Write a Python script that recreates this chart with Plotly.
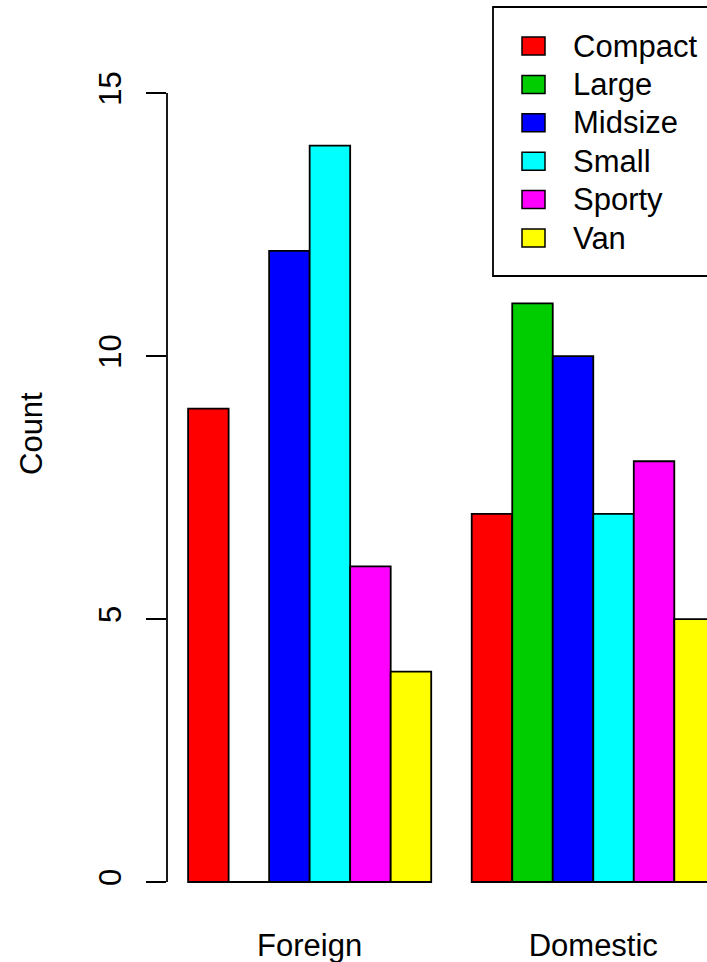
import plotly.graph_objects as go

origins = ["Foreign", "Domestic"]
types = ["Compact", "Large", "Midsize", "Small", "Sporty", "Van"]
colors = ["#FF0000", "#00CD00", "#0000FF", "#00FFFF", "#FF00FF", "#FFFF00"]
counts = {
    "Compact": [9, 7],
    "Large": [0, 11],
    "Midsize": [12, 10],
    "Small": [14, 7],
    "Sporty": [6, 8],
    "Van": [4, 5],
}
y_ticks = [0, 5, 10, 15]
y_title = "Count"

W, H = 707, 962
ML, MR, MT, MB = 167, 0, 0, 48
PW, PH = W - ML - MR, H - MT - MB
FONT = "Liberation Sans, Arial, Helvetica, sans-serif"
FS = 31

def px_x(px):
    return (px - ML) / PW

def px_y(py):
    return 1 - (py - MT) / PH

fig = go.Figure()
for t, c in zip(types, colors):
    fig.add_trace(go.Bar(
        x=origins, y=counts[t], name=t,
        marker=dict(color=c, line=dict(color="black", width=1.8)),
        showlegend=False, hoverinfo="skip",
    ))

shapes = []
annotations = []
# y axis line from first to last tick (R style)
shapes.append(dict(type="line", xref="paper", yref="y", x0=0, x1=0,
                   y0=min(y_ticks), y1=max(y_ticks),
                   line=dict(color="black", width=1.8)))
# legend box
shapes.append(dict(type="rect", xref="paper", yref="paper",
                   x0=px_x(493), x1=px_x(760), y0=px_y(276), y1=px_y(7),
                   line=dict(color="black", width=1.8), fillcolor="white", layer="above"))
row0, step = 46, 38.4
for i, (t, c) in enumerate(zip(types, colors)):
    cy = row0 + step * i
    shapes.append(dict(type="rect", xref="paper", yref="paper",
                       x0=px_x(522), x1=px_x(545), y0=px_y(cy + 9), y1=px_y(cy - 9),
                       line=dict(color="black", width=1.5), fillcolor=c, layer="above"))
    annotations.append(dict(text=t, xref="paper", yref="paper", x=px_x(571), y=px_y(cy),
                            xanchor="left", yanchor="middle", showarrow=False,
                            font=dict(family=FONT, size=FS, color="black")))
annotations.append(dict(text=y_title, xref="paper", yref="paper", x=px_x(32), y=px_y(434),
                        xanchor="center", yanchor="middle", textangle=-90, showarrow=False,
                        font=dict(family=FONT, size=FS, color="black")))

fig.update_layout(
    width=W, height=H,
    margin=dict(l=ML, r=MR, t=MT, b=MB, pad=0),
    paper_bgcolor="white", plot_bgcolor="white",
    barmode="group", bargap=1/7, bargroupgap=0,
    font=dict(family=FONT, size=FS, color="black"),
    shapes=shapes, annotations=annotations,
    xaxis=dict(type="category", range=[-0.503, 1.401], showline=False, showgrid=False,
               zeroline=False, ticks="", ticklabelstandoff=10,
               tickfont=dict(family=FONT, size=FS, color="black")),
    yaxis=dict(range=[-0.608, 16.77], tickvals=y_ticks, ticktext=[str(v) for v in y_ticks],
               showline=False, showgrid=False, zeroline=False,
               ticks="outside", ticklen=20, tickwidth=1.8, tickcolor="black",
               tickangle=-90, ticklabelstandoff=13,
               tickfont=dict(family=FONT, size=FS, color="black")),
)
fig.write_html("out.html", config={"displayModeBar": False},
               post_script="document.body.style.margin='0';document.body.style.overflow='hidden';")
